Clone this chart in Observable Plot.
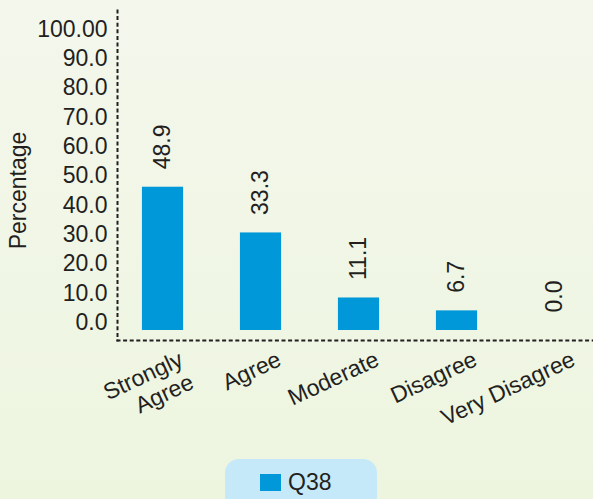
<!DOCTYPE html>
<html>
<head>
<meta charset="utf-8">
<script src="https://cdn.jsdelivr.net/npm/d3@7"></script>
<script src="https://cdn.jsdelivr.net/npm/@observablehq/plot@0.6"></script>
<style>
  html, body { margin: 0; padding: 0; }
  body {
    width: 593px; height: 499px; overflow: hidden;
    background: linear-gradient(#f4f7ec, #edf5df);
    font-family: "Liberation Sans", Arial, sans-serif;
    color: #231f20;
  }
  #chart svg { display: block; }
  .legend {
    position: absolute; left: 225px; top: 459px;
    width: 152px; height: 52px;
    background: #c6e9f9; border-radius: 14px;
  }
  .legend .sw {
    position: absolute; left: 35px; top: 15px; width: 21px; height: 17px;
    background: #0098d8;
  }
  .legend .lab {
    position: absolute; left: 63px; top: 10px; font-size: 23px; line-height: 26px;
  }
</style>
</head>
<body>
<div id="chart"></div>
<div class="legend"><span class="sw"></span><span class="lab" id="legendLabel"></span></div>
<script>
const categories = ["Strongly Agree", "Agree", "Moderate", "Disagree", "Very Disagree"];
const xTickLabels = ["Strongly\nAgree", "Agree", "Moderate", "Disagree", "Very Disagree"];
const values = [48.9, 33.3, 11.1, 6.7, 0.0];
const seriesName = "Q38";
const yTicks = [0, 10, 20, 30, 40, 50, 60, 70, 80, 90, 100];
const yTickLabels = ["0.0", "10.0", "20.0", "30.0", "40.0", "50.0", "60.0", "70.0", "80.0", "90.0", "100.00"];
const yTitle = "Percentage";

const data = categories.map((c, i) => ({category: c, value: values[i]}));
const barColor = "#0098d8";
const ink = "#231f20";

const chart = Plot.plot({
  width: 593,
  height: 450,
  marginLeft: 117,
  marginTop: 10,
  marginBottom: 110,
  marginRight: 0,
  style: {background: "transparent", fontFamily: "'Liberation Sans', Arial, sans-serif", fontSize: "23px", color: ink, overflow: "visible"},
  x: {type: "band", domain: categories, range: [113.5, 603.5], paddingInner: 0.58, paddingOuter: 0.29, round: false},
  y: {domain: [0, 100], range: [330, 37]},
  marks: [
    Plot.frame({anchor: "left", stroke: ink, strokeWidth: 2, strokeDasharray: "2,4.6"}),
    Plot.frame({anchor: "bottom", stroke: ink, strokeWidth: 2, strokeDasharray: "2,4.6"}),
    Plot.barY(data, {x: "category", y: "value", fill: barColor}),
    Plot.text(data, {x: "category", y: "value", text: d => d3.format(".1f")(d.value),
      rotate: -90, textAnchor: "start", lineAnchor: "middle", dy: -18, fontSize: 23, fill: ink}),
    Plot.axisY(yTicks, {tickFormat: d => yTickLabels[yTicks.indexOf(d)], tickSize: 0, tickPadding: 10,
      dy: -8, fontSize: 23, label: null, fill: ink}),
    Plot.axisX({tickFormat: d => xTickLabels[categories.indexOf(d)], tickSize: 0, tickPadding: 8,
      tickRotate: -25, textAnchor: "end", lineAnchor: "top", dx: 14, fontSize: 23, lineHeight: 1.1,
      label: null, fill: ink}),
    Plot.text([yTitle], {frameAnchor: "left", textAnchor: "middle", lineAnchor: "middle", dx: -99, dy: 15, rotate: -90, fontSize: 23, fill: ink})
  ]
});
document.getElementById("chart").appendChild(chart);
document.getElementById("legendLabel").textContent = seriesName;
</script>
</body>
</html>
